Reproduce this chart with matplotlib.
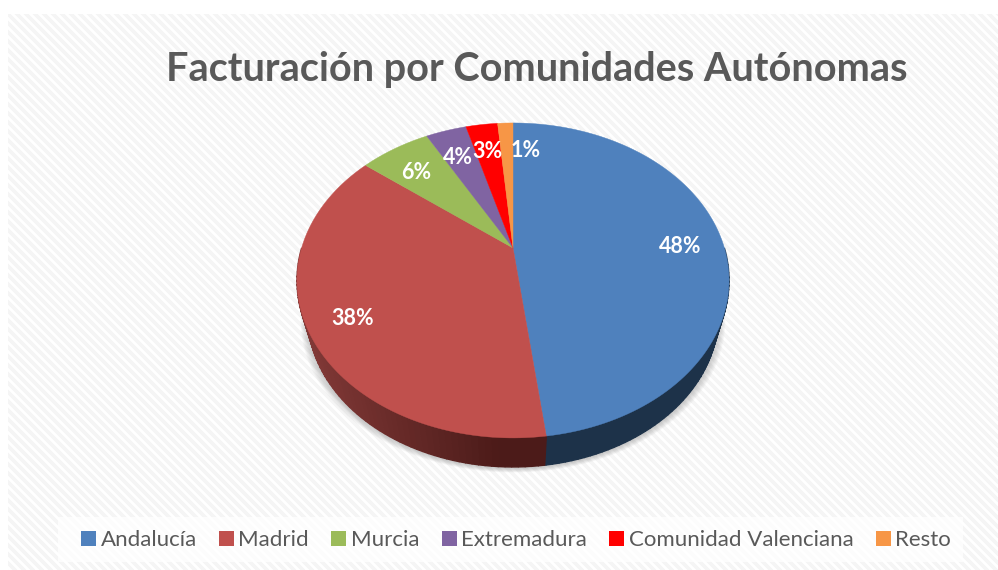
import numpy as np
import matplotlib
matplotlib.use('Agg')
import matplotlib.pyplot as plt
from matplotlib.collections import LineCollection
from matplotlib.colors import to_rgb
from matplotlib.patches import Patch, Rectangle

plt.rcParams['font.family'] = ['Lato', 'DejaVu Sans']

title = 'Facturación por Comunidades Autónomas'
regions = ['Andalucía', 'Madrid', 'Murcia', 'Extremadura', 'Comunidad Valenciana', 'Resto']
shares = [48.0, 37.6, 6.4, 3.7, 2.9, 1.4]
colors = ['#4f81bd', '#c0504d', '#9bbb59', '#8064a2', '#ff0000', '#f79646']

# Pie disk in perspective: apex and scales in pixels, k is the tilt
CX, CY = 513, 248
SX, SY = 211.4, 150.8
K = 0.206
# the lower rim is a smaller ellipse further down
MID_Y, LOW_Y = 281, 316
LOW_SCALE_X, LOW_SCALE_Y = 0.95, 0.962


def project(theta, r=1.0):
    # theta is clockwise from the top, in degrees
    t = np.radians(theta)
    x = r * np.sin(t)
    y = r * np.cos(t)
    w = 1 + K * y
    return CX + SX * x / w, CY - SY * y / w


def lower_rim(theta):
    x, y = project(theta)
    return CX + (x - CX) * LOW_SCALE_X, LOW_Y + (y - MID_Y) * LOW_SCALE_Y


def mix(c1, c2, f):
    a, b = np.array(to_rgb(c1)), np.array(to_rgb(c2))
    return tuple(a + (b - a) * f)


fig = plt.figure(figsize=(9.98, 5.70), dpi=100)
ax = fig.add_axes([0, 0, 1, 1])
ax.set_xlim(0, 998)
ax.set_ylim(570, 0)
ax.axis('off')

# striped plate behind the chart
plate = Rectangle((8, 14), 990, 556, facecolor='white', edgecolor='none', zorder=0)
ax.add_patch(plate)
offs = np.arange(-600, 1000, 9.0)
stripes = LineCollection([[(o, 0), (o + 580, 580)] for o in offs],
                         colors='#f5f5f5', linewidths=2.6, zorder=1)
ax.add_collection(stripes)
stripes.set_clip_path(plate)

# soft shadow under the pie
th = np.linspace(0, 360, 361)
sx, sy = lower_rim(th)
for grow in range(9, 0, -1):
    ax.fill(CX + (sx - CX) * (1 + grow / 260), sy + 1 + grow * 0.5,
            color='#808080', alpha=0.05, lw=0, zorder=2)

ends = np.cumsum(shares) / sum(shares) * 360
starts = np.r_[0, ends[:-1]]

# side wall, front half only
for a, b, c in zip(starts, ends, colors):
    lo, hi = max(a, 90), min(b, 270)
    if hi <= lo:
        continue
    angs = np.arange(lo, hi + 1.5, 1.5)
    angs[-1] = hi
    xs, ys = project(angs)
    xl, yl = lower_rim(angs)
    for j in range(len(angs) - 1):
        if c == '#4f81bd':
            col = '#1d3249'
        else:
            f = np.clip((xs[j] - 310) / 190, 0, 1)
            col = mix('#803836', '#4c1b19', f)
        ax.fill([xs[j], xs[j + 1], xl[j + 1], xl[j]],
                [ys[j], ys[j + 1], yl[j + 1], yl[j]],
                color=col, lw=1.0, zorder=3)

# top of the pie
for a, b, c in zip(starts, ends, colors):
    angs = np.linspace(a, b, 120)
    xs, ys = project(angs)
    ax.fill(np.r_[CX, xs], np.r_[CY, ys], color=c, lw=0.3, zorder=4)

# data labels, the last one gets pushed off its thin slice
mids = (starts + ends) / 2
for i, (m, s) in enumerate(zip(mids, shares)):
    lx, ly = project(m, 0.8)
    if i == len(shares) - 1:
        lx += 19
    ax.text(lx, ly + 6, f'{round(s)}%', color='white', fontsize=15.5, fontweight='bold',
            ha='center', va='center', zorder=6)

ax.text(537, 70, title, color='#595959', fontsize=28.5, fontweight='bold',
        ha='center', va='center', zorder=6)

# legend strip
handles = [Patch(facecolor=c, edgecolor='none') for c in colors]
ax.add_patch(Rectangle((58, 517), 905, 45, facecolor='white', alpha=0.75, edgecolor='none', zorder=5))
ax.legend(handles, regions, ncol=6, loc='center', bbox_to_anchor=(516 / 998, 1 - 540.5 / 570),
          frameon=False, fontsize=16, labelcolor='#595959', handlelength=0.68, handleheight=0.68,
          handletextpad=0.2, columnspacing=1.0, borderpad=0, borderaxespad=0)

fig.savefig('out.png', dpi=100)
